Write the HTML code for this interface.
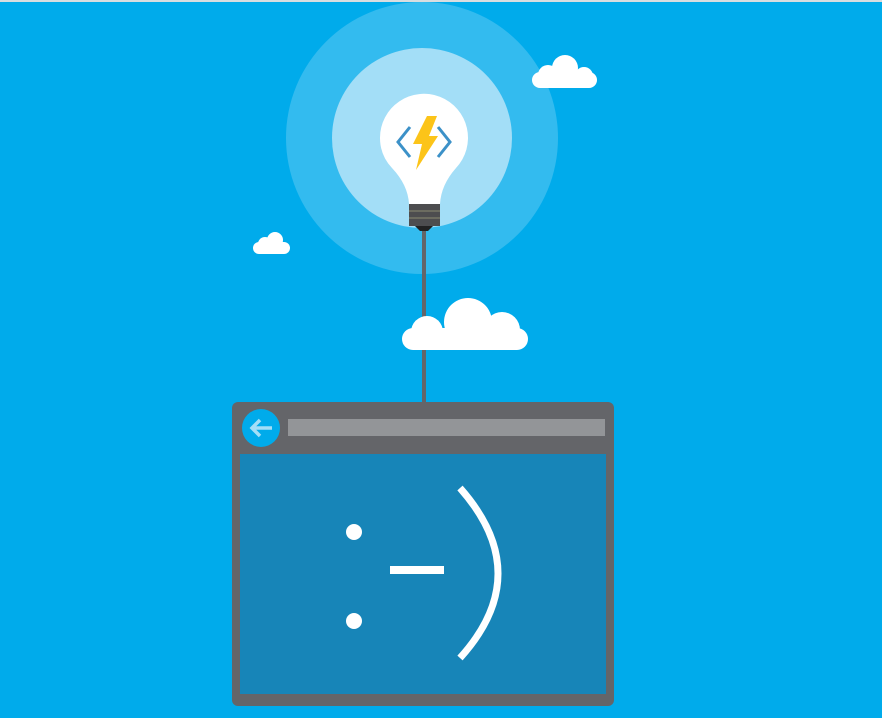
<!DOCTYPE html>
<html><head><style>html,body{margin:0;padding:0;background:#00abeb;}svg{display:block}</style></head><body>
<svg width="882" height="718" viewBox="0 0 882 718" xmlns="http://www.w3.org/2000/svg">
<rect width="882" height="718" fill="#00abeb"/>
<rect width="882" height="2" fill="#d8dde0"/>
<circle cx="422" cy="138" r="136" fill="#33bbef"/>
<circle cx="422" cy="138" r="90" fill="#a3def7"/>
<line x1="424" y1="220" x2="424" y2="404" stroke="#646569" stroke-width="4"/>
<g fill="#fff">
<rect x="402" y="328" width="126" height="22" rx="11"/>
<circle cx="427" cy="332" r="16"/><circle cx="468" cy="322" r="24"/><circle cx="502" cy="330" r="18"/>
<rect x="532" y="72" width="65" height="16" rx="8"/>
<circle cx="548" cy="75" r="10"/><circle cx="565" cy="68" r="13"/><circle cx="584" cy="76" r="9"/>
<rect x="253" y="242" width="37" height="12" rx="6"/>
<circle cx="265" cy="244" r="7"/><circle cx="275" cy="240" r="8"/>
</g>
<path d="M380 138 A44 44 0 1 1 456 168 Q441 185 440 204 L409 204 Q408 185 392 168 A44 44 0 0 1 380 138Z" fill="#fff"/>
<rect x="409" y="204" width="31" height="22" fill="#4d4d4f"/>
<line x1="409" y1="211" x2="440" y2="211" stroke="#8a8a70" stroke-width="1"/>
<line x1="409" y1="218" x2="440" y2="218" stroke="#8a8a70" stroke-width="1"/>
<path d="M415 226 L433 226 L428 231 L420 231Z" fill="#222"/>
<path d="M410 127 L398 142 L410 157" fill="none" stroke="#3c91c8" stroke-width="3"/>
<path d="M438 127 L450 142 L438 157" fill="none" stroke="#3c91c8" stroke-width="3"/>
<path d="M427 116 L437 116 L429 136 L438 136 L416 170 L422 144 L413 144Z" fill="#fcc419"/>
<rect x="232" y="402" width="382" height="304" rx="6" fill="#646569"/>
<rect x="240" y="454" width="366" height="240" fill="#1785b8"/>
<rect x="288" y="419" width="317" height="17" fill="#939598"/>
<circle cx="261" cy="428" r="19" fill="#00abeb"/>
<path d="M272 428 L252 428 M260 420 L252 428 L260 436" fill="none" stroke="#a3def7" stroke-width="3.5"/>
<circle cx="354" cy="532" r="8" fill="#fff"/>
<circle cx="354" cy="621" r="8" fill="#fff"/>
<rect x="390" y="566" width="54" height="8" fill="#fff"/>
<path d="M460 488 Q536 574 460 658" fill="none" stroke="#fff" stroke-width="7"/>
</svg>
</body></html>
